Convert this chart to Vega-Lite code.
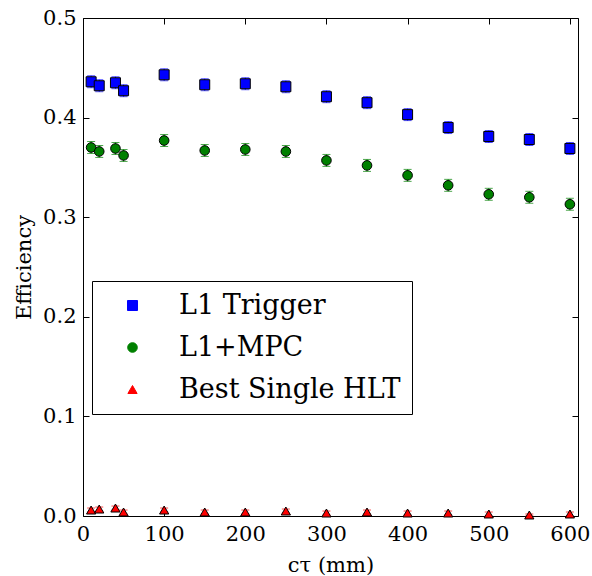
{
  "$schema": "https://vega.github.io/schema/vega-lite/v6.json",
  "width": 495,
  "height": 498,
  "autosize": {"type": "none"},
  "padding": {"left": 83, "top": 18, "right": 14, "bottom": 60},
  "background": "white",
  "config": {
    "font": "DejaVu Serif",
    "view": {"stroke": "black", "strokeWidth": 1},
    "axis": {"labelFont": "DejaVu Serif", "titleFont": "DejaVu Serif", "labelFontSize": 21, "titleFontSize": 21, "titleFontWeight": "normal", "labelColor": "black", "titleColor": "black", "grid": false, "domain": false, "tickColor": "black", "tickSize": -6, "labelPadding": 13, "labelFlush": false},
    "legend": {"title": null, "strokeColor": "black", "fillColor": "white", "padding": 11, "labelFont": "DejaVu Serif", "labelFontSize": 27, "labelColor": "black", "labelLimit": 0, "symbolOffset": 16, "labelOffset": 33, "rowPadding": 14, "symbolSize": 90, "symbolStrokeColor": "black", "symbolStrokeWidth": 1, "symbolOpacity": 1, "cornerRadius": 0}
  },
  "data": {
    "values": [
      {"series": "L1 Trigger", "ctau": 10, "eff": 0.436, "err": 0.006},
      {"series": "L1 Trigger", "ctau": 20, "eff": 0.432, "err": 0.006},
      {"series": "L1 Trigger", "ctau": 40, "eff": 0.435, "err": 0.006},
      {"series": "L1 Trigger", "ctau": 50, "eff": 0.427, "err": 0.006},
      {"series": "L1 Trigger", "ctau": 100, "eff": 0.443, "err": 0.006},
      {"series": "L1 Trigger", "ctau": 150, "eff": 0.433, "err": 0.006},
      {"series": "L1 Trigger", "ctau": 200, "eff": 0.434, "err": 0.006},
      {"series": "L1 Trigger", "ctau": 250, "eff": 0.431, "err": 0.006},
      {"series": "L1 Trigger", "ctau": 300, "eff": 0.421, "err": 0.006},
      {"series": "L1 Trigger", "ctau": 350, "eff": 0.415, "err": 0.006},
      {"series": "L1 Trigger", "ctau": 400, "eff": 0.403, "err": 0.006},
      {"series": "L1 Trigger", "ctau": 450, "eff": 0.390, "err": 0.006},
      {"series": "L1 Trigger", "ctau": 500, "eff": 0.381, "err": 0.006},
      {"series": "L1 Trigger", "ctau": 550, "eff": 0.378, "err": 0.006},
      {"series": "L1 Trigger", "ctau": 600, "eff": 0.369, "err": 0.006},
      {"series": "L1+MPC", "ctau": 10, "eff": 0.370, "err": 0.006},
      {"series": "L1+MPC", "ctau": 20, "eff": 0.366, "err": 0.006},
      {"series": "L1+MPC", "ctau": 40, "eff": 0.369, "err": 0.006},
      {"series": "L1+MPC", "ctau": 50, "eff": 0.362, "err": 0.006},
      {"series": "L1+MPC", "ctau": 100, "eff": 0.377, "err": 0.006},
      {"series": "L1+MPC", "ctau": 150, "eff": 0.367, "err": 0.006},
      {"series": "L1+MPC", "ctau": 200, "eff": 0.368, "err": 0.006},
      {"series": "L1+MPC", "ctau": 250, "eff": 0.366, "err": 0.006},
      {"series": "L1+MPC", "ctau": 300, "eff": 0.357, "err": 0.006},
      {"series": "L1+MPC", "ctau": 350, "eff": 0.352, "err": 0.006},
      {"series": "L1+MPC", "ctau": 400, "eff": 0.342, "err": 0.006},
      {"series": "L1+MPC", "ctau": 450, "eff": 0.332, "err": 0.006},
      {"series": "L1+MPC", "ctau": 500, "eff": 0.323, "err": 0.006},
      {"series": "L1+MPC", "ctau": 550, "eff": 0.320, "err": 0.006},
      {"series": "L1+MPC", "ctau": 600, "eff": 0.313, "err": 0.006},
      {"series": "Best Single HLT", "ctau": 10, "eff": 0.006, "err": 0.002},
      {"series": "Best Single HLT", "ctau": 20, "eff": 0.007, "err": 0.002},
      {"series": "Best Single HLT", "ctau": 40, "eff": 0.008, "err": 0.002},
      {"series": "Best Single HLT", "ctau": 50, "eff": 0.004, "err": 0.002},
      {"series": "Best Single HLT", "ctau": 100, "eff": 0.006, "err": 0.002},
      {"series": "Best Single HLT", "ctau": 150, "eff": 0.004, "err": 0.002},
      {"series": "Best Single HLT", "ctau": 200, "eff": 0.004, "err": 0.002},
      {"series": "Best Single HLT", "ctau": 250, "eff": 0.005, "err": 0.002},
      {"series": "Best Single HLT", "ctau": 300, "eff": 0.003, "err": 0.002},
      {"series": "Best Single HLT", "ctau": 350, "eff": 0.004, "err": 0.002},
      {"series": "Best Single HLT", "ctau": 400, "eff": 0.003, "err": 0.002},
      {"series": "Best Single HLT", "ctau": 450, "eff": 0.003, "err": 0.002},
      {"series": "Best Single HLT", "ctau": 500, "eff": 0.002, "err": 0.002},
      {"series": "Best Single HLT", "ctau": 550, "eff": 0.001, "err": 0.001},
      {"series": "Best Single HLT", "ctau": 600, "eff": 0.002, "err": 0.002}
    ]
  },
  "resolve": {"axis": {"x": "independent", "y": "independent"}},
  "layer": [
    {
      "mark": {"type": "errorbar", "ticks": {"size": 8}, "thickness": 1},
      "encoding": {
        "x": {"field": "ctau", "type": "quantitative", "scale": {"domain": [0, 610], "nice": false}, "axis": {"title": "cτ (mm)", "values": [0, 100, 200, 300, 400, 500, 600], "titlePadding": 10}},
        "y": {"field": "eff", "type": "quantitative", "scale": {"domain": [0, 0.5], "nice": false}, "axis": {"title": "Efficiency", "values": [0, 0.1, 0.2, 0.3, 0.4, 0.5], "format": ".1f", "titlePadding": 8}},
        "yError": {"field": "err"},
        "color": {"field": "series", "type": "nominal", "scale": {"domain": ["L1 Trigger", "L1+MPC", "Best Single HLT"], "range": ["#0000ff", "#008000", "#ff0000"]}}
      }
    },
    {
      "mark": {"type": "point", "filled": true, "stroke": "black", "strokeWidth": 1, "opacity": 1},
      "encoding": {
        "x": {"field": "ctau", "type": "quantitative", "axis": {"orient": "top", "labels": false, "title": null, "values": [0, 100, 200, 300, 400, 500, 600]}},
        "y": {"field": "eff", "type": "quantitative", "axis": {"orient": "right", "labels": false, "title": null, "values": [0, 0.1, 0.2, 0.3, 0.4, 0.5]}},
        "color": {"field": "series", "type": "nominal", "legend": {"orient": "none", "legendX": 9, "legendY": 263, "symbolStrokeColor": "black"}},
        "shape": {"field": "series", "type": "nominal", "scale": {"domain": ["L1 Trigger", "L1+MPC", "Best Single HLT"], "range": ["square", "circle", "triangle-up"]}, "legend": {"orient": "none", "legendX": 9, "legendY": 263, "symbolStrokeColor": "black"}},
        "size": {"field": "series", "type": "nominal", "scale": {"domain": ["L1 Trigger", "L1+MPC", "Best Single HLT"], "range": [100, 85, 70]}, "legend": null}
      }
    }
  ]
}
